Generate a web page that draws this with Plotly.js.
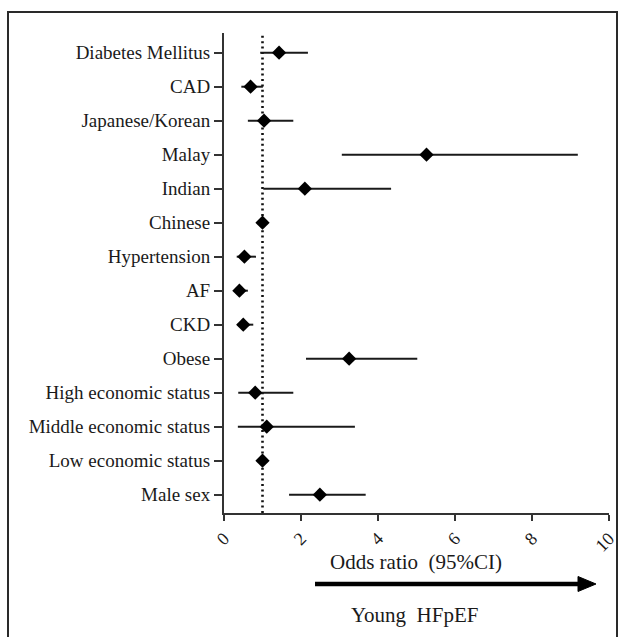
<!DOCTYPE html>
<html>
<head>
<meta charset="utf-8">
<script src="https://cdn.plot.ly/plotly-3.0.1.min.js"></script>
<style>
  html, body { margin: 0; padding: 0; background: #fff; }
  #wrap { position: relative; width: 624px; height: 637px; overflow: hidden; }
  #chart { position: absolute; left: 0; top: 0; width: 624px; height: 637px; }
  #frame { position: absolute; left: 7px; top: 11px; width: 607px; height: 640px;
           border: 2px solid #2a2a2a; pointer-events: none; }
</style>
</head>
<body>
<div id="wrap">
  <div id="chart"></div>
  <div id="frame"></div>
</div>
<script>
// Categories, top to bottom
const categories = [
  "Diabetes Mellitus", "CAD", "Japanese/Korean", "Malay", "Indian", "Chinese",
  "Hypertension", "AF", "CKD", "Obese", "High economic status",
  "Middle economic status", "Low economic status", "Male sex"
];
// Odds ratios and 95% CI bounds
const oddsRatio = [1.43, 0.69, 1.04, 5.26, 2.10, 1.00, 0.53, 0.40, 0.50, 3.25, 0.81, 1.11, 1.00, 2.49];
const ciLower   = [0.94, 0.45, 0.62, 3.06, 1.02, 1.00, 0.33, 0.29, 0.35, 2.13, 0.37, 0.36, 1.00, 1.69];
const ciUpper   = [2.18, 1.01, 1.80, 9.19, 4.34, 1.00, 0.83, 0.62, 0.76, 5.02, 1.80, 3.40, 1.00, 3.68];
const xTickVals = [0, 2, 4, 6, 8, 10];
const referenceOR = 1;
const xTitle = "Odds ratio\u00a0\u00a0(95%CI)";
const arrowLabel = "Young\u00a0\u00a0HFpEF";

const n = categories.length;
const yPos = categories.map((c, i) => n - 1 - i);
const errPlus = oddsRatio.map((v, i) => ciUpper[i] - v);
const errMinus = oddsRatio.map((v, i) => v - ciLower[i]);

const font = "Liberation Serif, Times New Roman, serif";

const traces = [
  {
    type: "scatter",
    mode: "lines",
    x: [referenceOR, referenceOR],
    y: [-0.54, n - 1 + 0.58],
    line: { color: "#111", width: 2.6, dash: "2px,3.4px" },
    hoverinfo: "skip",
    showlegend: false
  },
  {
    type: "scatter",
    mode: "markers",
    x: oddsRatio,
    y: yPos,
    error_x: {
      type: "data",
      symmetric: false,
      array: errPlus,
      arrayminus: errMinus,
      width: 0,
      thickness: 2,
      color: "#1a1a1a"
    },
    marker: { symbol: "diamond", size: 11, color: "#000" },
    showlegend: false
  }
];

const layout = {
  width: 624,
  height: 637,
  margin: { l: 224, r: 15, t: 33, b: 124 },
  paper_bgcolor: "#fff",
  plot_bgcolor: "#fff",
  showlegend: false,
  font: { family: font, color: "#1a1a1a" },
  xaxis: {
    range: [0, 10],
    tickvals: xTickVals,
    ticktext: xTickVals.map(String),
    tickangle: -45,
    ticks: "outside",
    ticklen: 6,
    tickwidth: 2,
    tickcolor: "#333",
    showline: true,
    linecolor: "#333",
    linewidth: 2,
    showgrid: false,
    zeroline: false,
    tickfont: { family: font, size: 18, color: "#1a1a1a" },
    fixedrange: true
  },
  yaxis: {
    range: [-0.54, n - 1 + 0.58],
    tickvals: yPos,
    ticktext: categories,
    ticks: "outside",
    ticklen: 8,
    tickwidth: 2,
    tickcolor: "#333",
    showline: true,
    linecolor: "#333",
    linewidth: 2,
    showgrid: false,
    zeroline: false,
    tickfont: { family: font, size: 19, color: "#1a1a1a" },
    fixedrange: true
  },
  annotations: [
    {
      xref: "paper", yref: "paper",
      x: 0.498, y: -0.102,
      xanchor: "center", yanchor: "middle",
      text: xTitle, showarrow: false,
      font: { family: font, size: 21, color: "#1a1a1a" }
    },
    {
      xref: "paper", yref: "paper",
      x: 0.495, y: -0.2125,
      xanchor: "center", yanchor: "middle",
      text: arrowLabel, showarrow: false,
      font: { family: font, size: 21, color: "#1a1a1a" }
    }
  ],
  shapes: [
    {
      type: "line", xref: "paper", yref: "paper",
      x0: 0.2364, x1: 0.925, y0: -0.1479, y1: -0.1479,
      line: { color: "#000", width: 4.5 }
    },
    {
      type: "path", xref: "paper", yref: "paper",
      path: "M 0.9195 -0.1323 L 0.9662 -0.1479 L 0.9195 -0.1635 Z",
      fillcolor: "#000",
      line: { color: "#000", width: 1 }
    }
  ]
};

Plotly.newPlot("chart", traces, layout, { displayModeBar: false, staticPlot: true });
</script>
</body>
</html>
